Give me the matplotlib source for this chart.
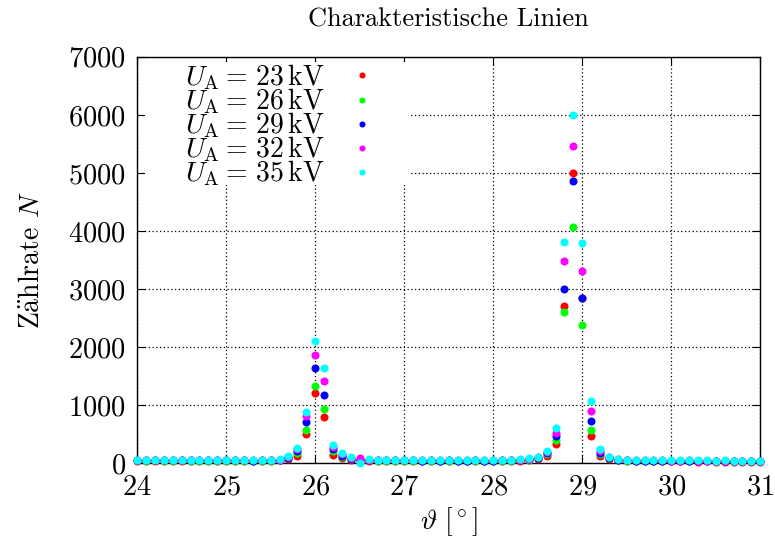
import numpy as np
import matplotlib
matplotlib.use('Agg')
import matplotlib.pyplot as plt
from matplotlib.patches import Rectangle

plt.rcParams['font.family'] = ['cmr10', 'DejaVu Serif']
plt.rcParams['mathtext.fontset'] = 'cm'
plt.rcParams['axes.unicode_minus'] = False
plt.rcParams['axes.formatter.use_mathtext'] = True

# Winkel in Grad (Messraster 0.1°)
angles = np.round(np.arange(24.0, 31.05, 0.1), 1)

voltages = [23, 26, 29, 32, 35]
colors = ['#ff0000', '#00ff00', '#0000ff', '#ff00ff', '#00ffff']

counts_23 = [40, 38, 41, 39, 37, 40, 38, 36, 39, 37, 35, 38, 36, 34, 37, 35, 45,
             70, 126, 505, 1215, 795, 140, 80, 55, 45,
             40, 38, 36, 38, 35, 37, 34, 36, 33, 35, 34, 32, 35, 33, 34, 36, 38, 42, 50,
             75, 120, 330, 2710, 4990, 2850, 470, 130, 65, 45,
             35, 33, 32, 30, 31, 29, 28, 30, 27, 28, 26, 27, 25, 26, 24, 25]
counts_26 = [45, 43, 46, 44, 42, 45, 43, 41, 44, 42, 40, 43, 41, 39, 42, 40, 50,
             80, 180, 565, 1330, 940, 200, 100, 65, 55,
             45, 43, 41, 43, 40, 42, 39, 41, 38, 40, 39, 37, 40, 38, 39, 41, 43, 48, 58,
             85, 150, 400, 2600, 4075, 2385, 570, 150, 80, 55,
             40, 38, 37, 35, 36, 34, 33, 35, 32, 33, 31, 32, 30, 31, 29, 30]
counts_29 = [50, 48, 51, 49, 47, 50, 48, 46, 49, 47, 45, 48, 46, 44, 47, 45, 55,
             90, 210, 705, 1630, 1170, 236, 130, 75, 60,
             50, 48, 46, 48, 45, 47, 44, 46, 43, 45, 44, 42, 45, 43, 44, 46, 48, 55, 65,
             95, 170, 470, 3000, 4860, 2845, 725, 180, 90, 60,
             45, 43, 42, 40, 41, 39, 38, 40, 37, 38, 36, 37, 35, 36, 34, 35]
counts_32 = [55, 53, 56, 54, 52, 55, 53, 51, 54, 52, 50, 53, 51, 49, 52, 50, 60,
             100, 235, 815, 1870, 1410, 280, 150, 90, 85,
             55, 53, 51, 53, 50, 52, 49, 51, 48, 50, 49, 47, 50, 48, 49, 51, 53, 60, 72,
             100, 190, 520, 3480, 5465, 3310, 900, 210, 100, 65,
             50, 48, 47, 45, 46, 44, 43, 45, 42, 43, 41, 42, 40, 41, 39, 40]
counts_35 = [58, 56, 59, 57, 55, 58, 56, 54, 57, 55, 53, 56, 54, 52, 55, 53, 65,
             120, 255, 875, 2110, 1630, 310, 167, 110, -5,
             75, 56, 54, 56, 53, 55, 52, 54, 51, 53, 52, 50, 53, 51, 52, 54, 56, 65, 80,
             105, 210, 610, 3810, 6000, 3790, 1075, 240, 110, 70,
             55, 52, 50, 48, 49, 47, 46, 48, 45, 46, 44, 45, 43, 44, 42, 43]

all_counts = [counts_23, counts_26, counts_29, counts_32, counts_35]

fig = plt.figure(figsize=(7.75, 5.41), dpi=100)
ax = fig.add_axes([0.177, 0.144, 0.804, 0.751])

for u, c, n in zip(voltages, colors, all_counts):
    ax.plot(angles, n, 'o', color=c, markersize=5.8, markeredgewidth=0,
            clip_on=False, zorder=3,
            label=r'$U_\mathrm{A}=\,%d\,\mathrm{kV}$' % u)

ax.set_xlim(24, 31)
ax.set_ylim(0, 7000)
ax.set_xticks(range(24, 32))
ax.set_yticks(range(0, 7001, 1000))
ax.grid(True, color='black', linestyle=(0, (1, 2)), linewidth=0.9)
ax.tick_params(direction='in', top=True, right=True, length=6, labelsize=20.5, pad=8)
for s in ax.spines.values():
    s.set_linewidth(1.0)

ax.set_title('Charakteristische Linien', fontsize=19, pad=22)
ax.set_xlabel(r'$\vartheta\ [^\circ]$', fontsize=20, labelpad=3)
ax.set_ylabel(r'Z$\ddot{\mathrm{a}}$hlrate $N$', fontsize=20, labelpad=17)

# opaque key area like gnuplot
ax.add_patch(Rectangle((0.012, 0.685), 0.426, 0.302, transform=ax.transAxes,
                       facecolor='white', edgecolor='none', zorder=2))

leg = ax.legend(loc='upper left', bbox_to_anchor=(0.077, 0.987), markerfirst=False,
                frameon=False, fontsize=20, handlelength=1.0, handletextpad=0.85,
                labelspacing=-0.2, borderpad=0.0, borderaxespad=0.0,
                markerscale=0.75)
leg.set_zorder(5)

fig.savefig('out.png', dpi=100)
